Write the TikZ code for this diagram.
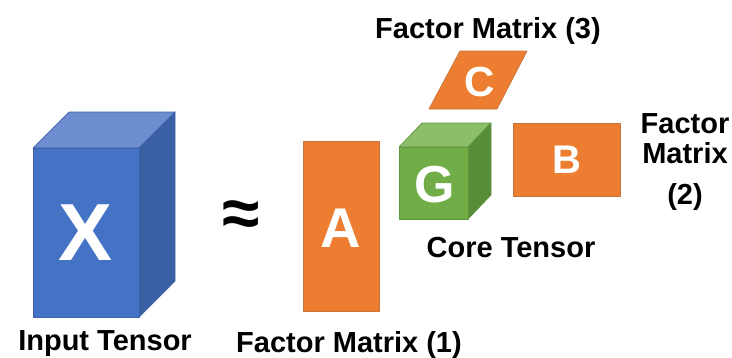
\documentclass[tikz,border=0pt]{standalone}
\usepackage{fontspec}
\setmainfont{Liberation Sans}
\definecolor{bluefront}{HTML}{4472C4}
\definecolor{bluetop}{HTML}{6C8ED0}
\definecolor{blueside}{HTML}{3A5FA3}
\definecolor{blueedge}{HTML}{3C62A8}
\definecolor{orangefill}{HTML}{ED7D31}
\definecolor{orangeedge}{HTML}{C8733A}
\definecolor{greenfront}{HTML}{70AD47}
\definecolor{greentop}{HTML}{8CBE6A}
\definecolor{greenside}{HTML}{578C38}
\definecolor{greenedge}{HTML}{5E9640}
\tikzset{
  label/.style={font=\fontsize{29}{34}\selectfont\bfseries, text=black, inner sep=0pt, anchor=base},
  letter/.style={text=white, inner sep=0pt, font=\bfseries},
  blueface/.style={draw=blueedge, line width=0.7pt, line join=round},
  orangeface/.style={fill=orangefill, draw=orangeedge, line width=0.7pt, line join=round},
  greenface/.style={draw=greenedge, line width=0.7pt, line join=round},
}
\begin{document}
\begin{tikzpicture}[x=1pt, y=-1pt]
\useasboundingbox (0,0) rectangle (732,357);

% input tensor X (cuboid)
\filldraw[blueface, fill=bluetop] (33,148) -- (69,112) -- (175,112) -- (139,148) -- cycle;
\filldraw[blueface, fill=blueside] (139,148) -- (175,112) -- (175,281) -- (139,317) -- cycle;
\filldraw[blueface, fill=bluefront] (33,148) rectangle (139,317);
\node[letter, font=\fontsize{81}{90}\selectfont\bfseries] (x) at (86,233) {X};
\node[label] (inputlbl) at (105,350) {Input Tensor};

% approximately equal sign
\node[inner sep=0pt, font=\fontsize{68}{70}\selectfont\bfseries] (approx) at (241,219) {≈};

% factor matrix A
\filldraw[orangeface] (303,141) rectangle (379,311);
\node[letter, font=\fontsize{56}{60}\selectfont\bfseries] (a) at (341,228) {A};
\node[label] (alabel) at (349,352) {Factor Matrix (1)};

% factor matrix C (slanted)
\filldraw[orangeface] (460,51) -- (527,51) -- (497,109) -- (429,109) -- cycle;
\node[letter, font=\fontsize{42}{46}\selectfont\bfseries] (c) at (480,82) {C};
\node[label] (clabel) at (488,38) {Factor Matrix (3)};

% core tensor G (cube)
\filldraw[greenface, fill=greentop] (399,147) -- (422,123) -- (491,123) -- (468,147) -- cycle;
\filldraw[greenface, fill=greenside] (468,147) -- (491,123) -- (491,195) -- (468,219) -- cycle;
\filldraw[greenface, fill=greenfront] (399,147) rectangle (468,219);
\node[letter, font=\fontsize{52}{56}\selectfont\bfseries] (g) at (435,185) {G};
\node[label] (glabel) at (511,257) {Core Tensor};

% factor matrix B
\filldraw[orangeface] (513,123) rectangle (620,196);
\node[letter, font=\fontsize{40}{44}\selectfont\bfseries] (b) at (567,160) {B};
\node[label] (blabel1) at (685,133) {Factor};
\node[label] (blabel2) at (685,163) {Matrix};
\node[label] (blabel3) at (685,204) {(2)};
\end{tikzpicture}
\end{document}
